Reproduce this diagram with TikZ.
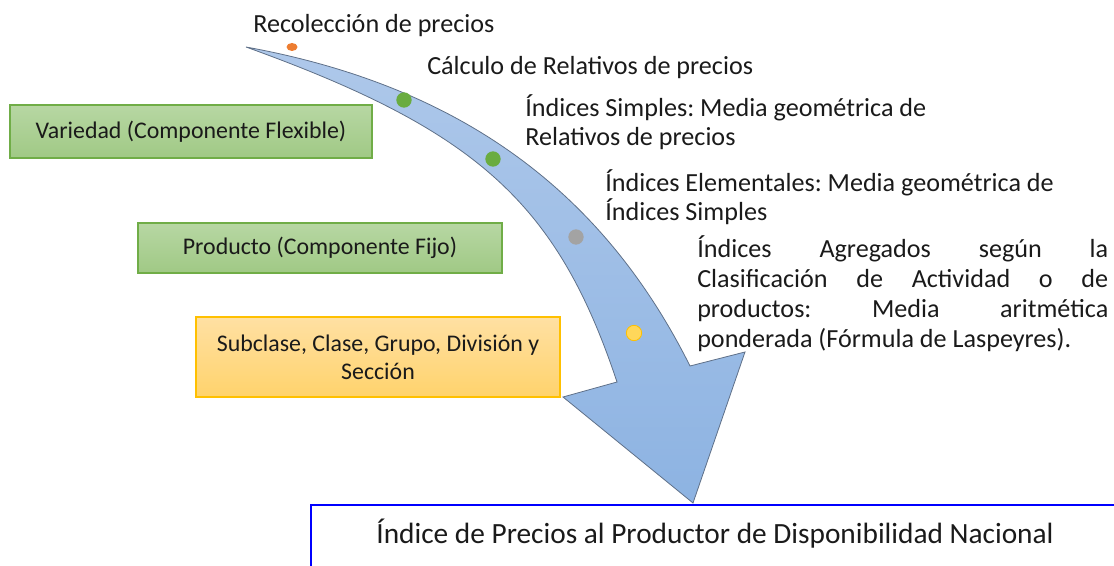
\documentclass[tikz,border=0pt]{standalone}
\usepackage{fontspec}
\setmainfont{Carlito}
\frenchspacing
\usetikzlibrary{shapes.geometric}
\definecolor{arrowtop}{HTML}{AEC8EA}
\definecolor{arrowbot}{HTML}{8DB3E2}
\definecolor{arrowline}{HTML}{5F7088}
\definecolor{gtop}{HTML}{B7D7A3}
\definecolor{gbot}{HTML}{A0C985}
\definecolor{gline}{HTML}{70AD47}
\definecolor{ytop}{HTML}{FFE0A3}
\definecolor{ybot}{HTML}{FFD36C}
\definecolor{yline}{HTML}{FFC000}
\definecolor{dotgreen}{HTML}{6AAC40}
\definecolor{dotgray}{HTML}{A3A3A3}
\definecolor{dotyellow}{HTML}{FFD75A}
\definecolor{dotorange}{HTML}{ED7D31}
\definecolor{txtc}{HTML}{1A1A1A}
\begin{document}
\begin{tikzpicture}[x=0.75pt,y=-0.75pt,
  txt/.style={inner sep=0pt, text=txtc, font=\fontsize{19.6}{21.4}\selectfont\frenchspacing},
  boxfont/.style={text=txtc, font=\fontsize{17.9}{21.2}\selectfont\frenchspacing},
  gbox/.style={draw=gline, line width=0.9pt, top color=gtop, bottom color=gbot, inner sep=0pt, boxfont},
  ybox/.style={draw=yline, line width=1.2pt, top color=ytop, bottom color=ybot, inner sep=0pt, align=center, boxfont},
  dot/.style={circle, inner sep=0pt, minimum size=11.5pt}
]
\useasboundingbox (0,0) rectangle (1114,566);
% curved arrow
\draw[arrowline, line width=0.6pt, top color=arrowtop, bottom color=arrowbot]
  (246,47) .. controls (466,87) and (605,196) .. (690,366)
  -- (745,352) -- (693,503) -- (563,397) -- (617,382)
  .. controls (557,202) and (476,130) .. (246,47) -- cycle;
% dots
\node[ellipse, fill=dotorange, inner sep=0pt, minimum width=8.25pt, minimum height=6pt] (d0) at (292,47) {};
\node[dot, fill=dotgreen] (d1) at (404,100) {};
\node[dot, fill=dotgreen] (d2) at (493,159) {};
\node[dot, fill=dotgray] (d3) at (576,237) {};
\node[dot, fill=dotyellow, draw=yline, line width=0.6pt] (d4) at (634,333) {};
% boxes
\node[gbox, minimum width=271.5pt, minimum height=39.75pt] (var) at (191,131.5) {Variedad (Componente Flexible)};
\node[gbox, minimum width=273pt, minimum height=37.5pt] (prod) at (320,248) {Producto (Componente Fijo)};
\node[ybox, minimum width=273pt, minimum height=60pt] (sub) at (378,357) {Subclase, Clase, Grupo, División y\\Sección};
% bottom box
\draw[blue, line width=1.4pt, fill=white] (311,600) -- (311,505) -- (1130,505);
\node[inner sep=0pt, text=txtc, font=\fontsize{22}{26}\selectfont, anchor=base] (ipp) at (715,543) {Índice de Precios al Productor de Disponibilidad Nacional};
% step texts
\node[txt, anchor=base west] (t1) at (253,33) {Recolección de precios};
\node[txt, anchor=base west] (t2) at (427,75) {Cálculo de Relativos de precios};
\node[txt, anchor=base west, align=flush left, text width=420pt] (t3) at (525,116.5) {Índices Simples: Media geométrica de\\Relativos de precios};
\node[txt, anchor=base west, align=flush left, text width=440pt] (t4) at (605,191.5) {Índices Elementales: Media geométrica de\\Índices Simples};
\node[txt, anchor=base west, align=flush left, text width=308.25pt, font=\fontsize{19.6}{22.5}\selectfont\frenchspacing] (t5) at (697,258) {Índices\hfill Agregados\hfill según\hfill la\\Clasificación\hfill de\hfill Actividad\hfill o\hfill de\\productos:\hfill Media\hfill aritmética\\ponderada (Fórmula de Laspeyres).};
\end{tikzpicture}
\end{document}
